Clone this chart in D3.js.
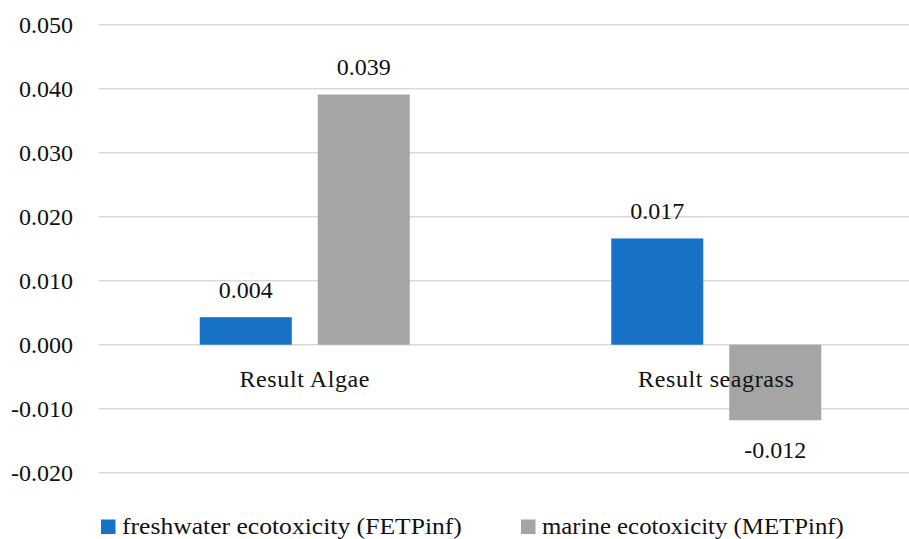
<!DOCTYPE html>
<html>
<head>
<meta charset="utf-8">
<script src="https://cdn.jsdelivr.net/npm/d3@7"></script>
<style>
  body { margin: 0; background: #fff; }
  text { font-family: "Liberation Serif", "Times New Roman", serif; fill: #111; }
</style>
</head>
<body>
<svg id="chart"></svg>
<script>
const categories = ["Result Algae", "Result seagrass"];
const seriesNames = ["freshwater ecotoxicity (FETPinf)", "marine ecotoxicity (METPinf)"];
const freshwater = [0.0043, 0.0166];
const marine = [0.0391, -0.0118];
const valueLabels = [["0.004", "0.039"], ["0.017", "-0.012"]];
const yTicks = [-0.02, -0.01, 0, 0.01, 0.02, 0.03, 0.04, 0.05];
const colors = ["#1771c7", "#a5a5a5"];

const width = 909, height = 539;
const svg = d3.select("#chart").attr("width", width).attr("height", height);

const y = d3.scaleLinear().domain([-0.02, 0.05]).range([472.7, 24.7]);
const x0 = d3.scaleBand().domain(categories).range([99, 922]).padding(0);
const x1 = d3.scaleBand().domain(seriesNames).range([0, x0.bandwidth()])
    .paddingInner(0.22).paddingOuter(0.854);

// gridlines
svg.append("g").selectAll("line")
    .data(yTicks)
    .enter().append("line")
    .attr("x1", 99).attr("x2", width)
    .attr("y1", d => y(d)).attr("y2", d => y(d))
    .attr("stroke", "#d9d9d9")
    .attr("stroke-width", 1.5)

// y tick labels
svg.append("g").selectAll("text")
    .data(yTicks)
    .enter().append("text")
    .attr("x", 73)
    .attr("y", d => y(d))
    .attr("dy", "0.35em")
    .attr("text-anchor", "end")
    .style("font-size", "24px")
    .text(d => d3.format(".3f")(d).replace("−", "-"))

const rows = categories.map((c, i) => ({
    key: c,
    vals: [freshwater[i], marine[i]].map((v, j) => ({series: seriesNames[j], value: v, label: valueLabels[i][j], j}))
}));

const groups = svg.append("g").selectAll("g")
    .data(rows)
    .enter().append("g")
    .attr("transform", d => `translate(${x0(d.key)},0)`)

groups.selectAll("rect")
    .data(d => d.vals)
    .enter().append("rect")
    .attr("x", d => x1(d.series))
    .attr("width", x1.bandwidth())
    .attr("y", d => y(Math.max(0, d.value)))
    .attr("height", d => Math.abs(y(d.value) - y(0)))
    .attr("fill", d => colors[d.j])

groups.selectAll("text.val")
    .data(d => d.vals)
    .enter().append("text")
    .attr("class", "val")
    .attr("x", d => x1(d.series) + x1.bandwidth() / 2)
    .attr("y", d => d.value >= 0 ? y(d.value) - 19 : y(d.value) + 38)
    .attr("text-anchor", "middle")
    .style("font-size", "24px")
    .text(d => d.label)

// category labels
svg.append("g").selectAll("text")
    .data(categories)
    .enter().append("text")
    .attr("x", d => x0(d) + x0.bandwidth() / 2)
    .attr("y", y(0) + 42.6)
    .attr("text-anchor", "middle")
    .style("font-size", "24px")
    .style("letter-spacing", "0.6px")
    .text(d => d)

// legend, stretched a little to the Palatino widths of the original
const legendX = [101, 521], legendW = [340, 302];
const legend = svg.append("g").selectAll("g")
    .data(seriesNames)
    .enter().append("g")

legend.append("rect")
    .attr("x", (d, i) => legendX[i])
    .attr("y", 519.5)
    .attr("width", 14.5)
    .attr("height", 14.5)
    .attr("fill", (d, i) => colors[i])

legend.append("text")
    .style("font-size", "24px")
    .text(d => d)
    .attr("transform", function(d, i) {
        const k = legendW[i] / this.getComputedTextLength();
        return `translate(${legendX[i] + 21},534.3) scale(${k},1)`;
    })
</script>
</body>
</html>
